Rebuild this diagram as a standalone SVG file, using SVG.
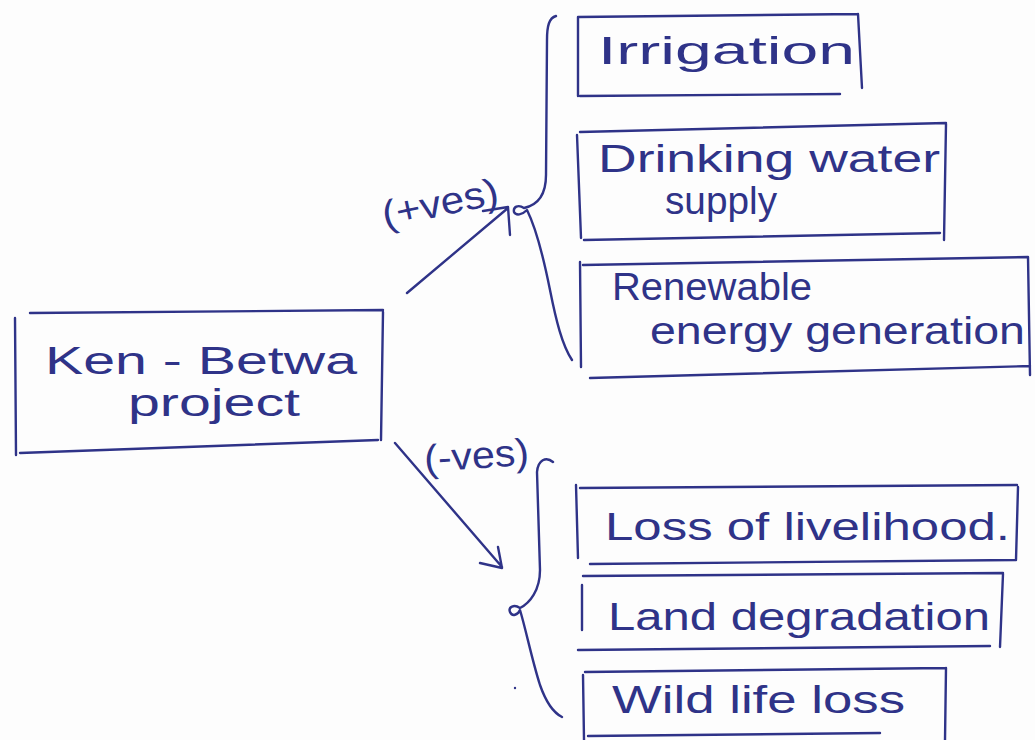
<svg xmlns="http://www.w3.org/2000/svg" width="1035" height="740" viewBox="0 0 1035 740">
<style>
.ink{fill:none;stroke:#2f3388;stroke-width:2.4;stroke-linecap:round;stroke-linejoin:round}
.t{font-family:"Liberation Sans","DejaVu Sans",sans-serif;fill:#2f3388;font-size:38px}
</style>
<rect width="1035" height="740" fill="#fdfdfd"/>
<g id="ken-betwa">
<path class="ink" d="M30,313 L383,310 M15,318 L16,455 M383,312 L381,440 M20,453 L378,440"/>
<text class="t" x="45" y="374" font-size="34" textLength="312" lengthAdjust="spacingAndGlyphs">Ken - Betwa</text>
<text class="t" x="128" y="416" font-size="34" textLength="172" lengthAdjust="spacingAndGlyphs">project</text>
</g>
<g id="irrigation">
<path class="ink" d="M578,17 L858,14 M578,17 L578,96 M858,14 L862,88 M580,96 L840,94"/>
<text class="t" x="598" y="64" textLength="257" lengthAdjust="spacingAndGlyphs">Irrigation</text>
</g>
<g id="drinking">
<path class="ink" d="M580,132 L946,123 M577,135 L581,238 M946,124 L944,240 M584,240 L940,233"/>
<text class="t" x="598" y="172" textLength="342" lengthAdjust="spacingAndGlyphs">Drinking water</text>
<text class="t" x="665" y="214" font-size="34" textLength="112" lengthAdjust="spacingAndGlyphs">supply</text>
</g>
<g id="renewable">
<path class="ink" d="M583,265 L1028,257 M580,262 L581,367 M1028,257 L1030,375 M590,378 L1030,366"/>
<text class="t" x="612" y="300" textLength="200" lengthAdjust="spacingAndGlyphs">Renewable</text>
<text class="t" x="650" y="344" textLength="375" lengthAdjust="spacingAndGlyphs">energy generation</text>
</g>
<g id="loss-livelihood">
<path class="ink" d="M580,488 L1017,485 M576,485 L578,558 M1018,487 L1016,560 M590,564 L1015,560"/>
<text class="t" x="605" y="540" textLength="405" lengthAdjust="spacingAndGlyphs">Loss of livelihood.</text>
</g>
<g id="land-degradation">
<path class="ink" d="M583,576 L1003,573 M582,585 L582,630 M1003,574 L1000,647 M578,650 L990,646"/>
<text class="t" x="608" y="630" textLength="382" lengthAdjust="spacingAndGlyphs">Land degradation</text>
</g>
<g id="wildlife-loss">
<path class="ink" d="M585,672 L946,668 M583,675 L584,740 M946,668 L945,740 M588,736 L880,733"/>
<text class="t" x="612" y="713" textLength="293" lengthAdjust="spacingAndGlyphs">Wild life loss</text>
</g>
<g id="connectors">
<path class="ink" d="M407,293 L508,208 M483,211 L508,207 L510,235"/>
<text class="t" x="385" y="228" font-size="30" textLength="118" lengthAdjust="spacingAndGlyphs" transform="rotate(-12 385 228)">(+ves)</text>
<path class="ink" d="M556,16 C549,18 547,26 547,40 L546,175 C546,195 538,205 524,208 C518,204 513,207 514,212 C516,216 522,215 527,210 C533,222 542,250 550,290 C556,320 562,345 572,360"/>
<path class="ink" d="M395,443 L502,567 M480,563 L502,568 L498,547"/>
<text class="t" x="425" y="472" font-size="30" textLength="105" lengthAdjust="spacingAndGlyphs" transform="rotate(-4 425 472)">(-ves)</text>
<path class="ink" d="M553,462 C546,456 538,460 537,472 L540,570 C540,590 530,603 520,608 C514,604 508,607 510,612 C512,617 518,615 520,610 C526,630 532,660 540,685 C547,705 554,713 562,717"/>
<circle cx="515" cy="688" r="1.2" fill="#2f3388"/>
</g>
</svg>
